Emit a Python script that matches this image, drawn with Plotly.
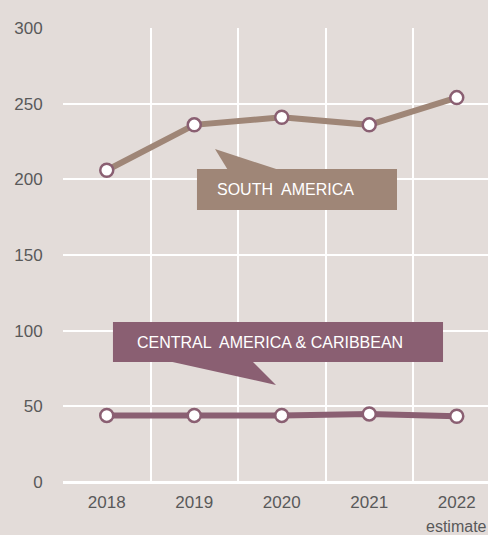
import plotly.graph_objects as go

years = [2018, 2019, 2020, 2021, 2022]
tick_labels = ["2018", "2019", "2020", "2021", "2022"]
south_america = [206, 236, 241, 236, 254]
central_america = [44, 44, 44, 45, 43.5]
y_ticks = [0, 50, 100, 150, 200, 250, 300]

BG = "#e3dcd9"
SOUTH_C = "#9f8677"
CENTRAL_C = "#8a5f72"
TXT = "#595959"
FONT = "Liberation Sans, Arial, sans-serif"

fig = go.Figure()
for vals, col in [(south_america, SOUTH_C), (central_america, CENTRAL_C)]:
    fig.add_trace(go.Scatter(
        x=years, y=vals, mode="lines+markers",
        line=dict(color=col, width=6),
        marker=dict(size=13, color="white", line=dict(color=CENTRAL_C, width=2.5)),
        showlegend=False, cliponaxis=False,
    ))

shapes = [
    dict(type="rect", xref="x", yref="y", x0=2019.031, x1=2021.317, y0=179.7, y1=206.8,
         fillcolor=SOUTH_C, line=dict(width=0), layer="above"),
    dict(type="path", xref="x", yref="y",
         path="M 2019.386 206 L 2019.237 220 L 2019.98 206 Z",
         fillcolor=SOUTH_C, line=dict(width=0), layer="above"),
    dict(type="rect", xref="x", yref="y", x0=2018.071, x1=2021.843, y0=79.3, y1=105.7,
         fillcolor=CENTRAL_C, line=dict(width=0), layer="above"),
    dict(type="path", xref="x", yref="y",
         path="M 2018.7 80 L 2019.934 64.1 L 2019.66 80 Z",
         fillcolor=CENTRAL_C, line=dict(width=0), layer="above"),
]

annotations = [
    dict(x=2020.043, y=193, xref="x", yref="y", text="SOUTH  AMERICA", showarrow=False,
         font=dict(family=FONT, size=16, color="white")),
    dict(x=2019.866, y=92.5, xref="x", yref="y", text="CENTRAL  AMERICA &amp; CARIBBEAN",
         showarrow=False, font=dict(family=FONT, size=16, color="white")),
    dict(x=2022, y=-0.074, xref="x", yref="paper", text="estimate", showarrow=False,
         yanchor="top", font=dict(family=FONT, size=16, color=TXT)),
    dict(x=0, y=1.0573, xref="paper", yref="paper", xshift=-58, xanchor="left",
         yanchor="bottom", text="(thousand tonnes)", showarrow=False,
         font=dict(family=FONT, size=17, color=TXT)),
]

fig.update_layout(
    width=488, height=535,
    margin=dict(l=63, r=0, t=28, b=53),
    paper_bgcolor=BG, plot_bgcolor=BG,
    font=dict(family=FONT, size=17, color=TXT),
    shapes=shapes, annotations=annotations,
    xaxis=dict(
        range=[2017.5, 2022.357], tickvals=years, ticktext=tick_labels,
        showgrid=False, zeroline=False, showline=False,
        ticks="outside", ticklen=5, tickcolor="rgba(0,0,0,0)",
        minor=dict(tickvals=[2017.5, 2018.5, 2019.5, 2020.5, 2021.5, 2022.5],
                   showgrid=True, gridcolor="white", gridwidth=2),
        tickfont=dict(family=FONT, size=17, color=TXT),
    ),
    yaxis=dict(
        range=[0, 300], tickvals=y_ticks, showgrid=True, gridcolor="white", gridwidth=2,
        zeroline=True, zerolinecolor="white", zerolinewidth=3, showline=False,
        ticks="outside", ticklen=16, tickcolor="rgba(0,0,0,0)",
        tickfont=dict(family=FONT, size=17, color=TXT),
    ),
)

fig.write_html(
    "out.html",
    config={"displayModeBar": False},
    post_script="document.body.style.margin='0';document.body.style.overflow='hidden';",
)
